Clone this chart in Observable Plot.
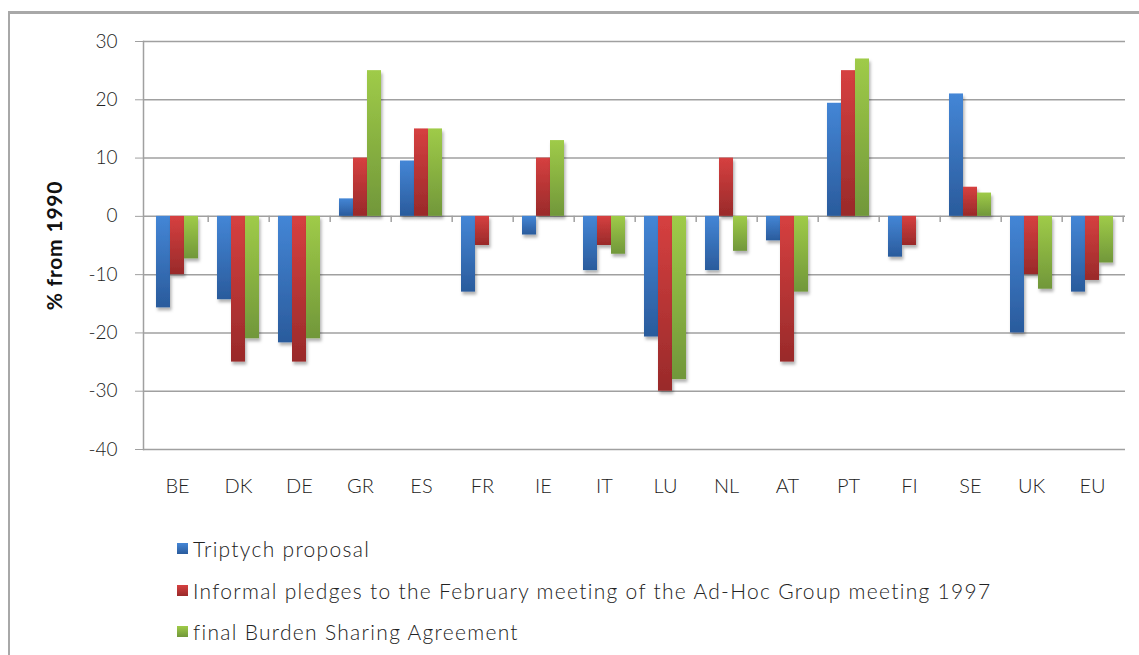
<!DOCTYPE html>
<html><head><meta charset="utf-8">
<script src="https://cdn.jsdelivr.net/npm/d3@7"></script>
<script src="https://cdn.jsdelivr.net/npm/@observablehq/plot@0.6"></script>
<style>
body{margin:0;background:#fff;font-family:Lato, "Open Sans", sans-serif;overflow:hidden;}
#frame{position:absolute;left:8px;top:11px;width:1200px;height:700px;border-left:2px solid #a8a8a8;border-top:3px solid #a8a8a8;box-sizing:border-box;}
#chart{position:absolute;left:0;top:0;}
#legend{position:absolute;left:177px;top:528px;}
.item{display:flex;align-items:center;height:41.5px;font-size:21px;font-weight:300;letter-spacing:1.3px;color:#222;white-space:nowrap;}
.sw{width:11px;height:11px;margin-right:5px;flex:none;}
</style></head>
<body><div id="frame"></div><div id="chart"></div><div id="legend"></div>
<script>
const categories = ["BE","DK","DE","GR","ES","FR","IE","IT","LU","NL","AT","PT","FI","SE","UK","EU"];
const triptych = [-15.7,-14.3,-21.7,3,9.5,-13,-3.2,-9.3,-20.7,-9.3,-4.2,19.4,-7,21,-20,-13];
const pledges  = [-10,-25,-25,10,15,-5,10,-5,-30,10,-25,25,-5,5,-10,-11];
const finalBSA = [-7.3,-21,-21,25,15,null,13,-6.5,-28,-6,-13,27,null,4,-12.5,-8];
const seriesNames = ["Triptych proposal","Informal pledges to the February meeting of the Ad-Hoc Group meeting 1997","final Burden Sharing Agreement"];
const yTicks = [30,20,10,0,-10,-20,-30,-40];
const yLabel = "% from 1990";

const gradients = [["#4486d6","#2a5b9c"],["#d64040","#992a2a"],["#9fcb48","#71973a"]];
const seriesValues = [triptych, pledges, finalBSA];
const rows = seriesNames.map((s, i) => categories.map((c, j) => ({cat: c, series: s, value: seriesValues[i][j]})));

const step = (1125 - 143) / categories.length;
const barW = 14;

const plot = Plot.plot({
  width: 1139, height: 509,
  marginLeft: 143, marginRight: 14, marginTop: 41, marginBottom: 60,
  style: {fontFamily: "Lato, 'Open Sans', sans-serif", color: "#222", background: "transparent"},
  x: {domain: categories, paddingInner: 1 - barW / step, paddingOuter: (1 - barW / step) / 2, label: null},
  y: {domain: [-40, 30], label: null},
  marks: [
    Plot.ruleY(yTicks, {stroke: "#a0a0a0", strokeWidth: 1.5}),
    Plot.frame({anchor: "left", stroke: "#a0a0a0", strokeWidth: 1.5}),
    ...rows.map((r, i) => Plot.barY(r.filter(d => d.value != null), {
      x: "cat", y: "value", dx: (i - 1) * barW, fill: `url(#grad${i})`
    })),
    Plot.ruleX(categories, {x: d => d, y1: 0, y2: -1.05, dx: step / 2, stroke: "#a0a0a0", strokeWidth: 1.5}),
    Plot.axisY({ticks: yTicks, tickSize: 8, tickPadding: 18, stroke: "#a0a0a0", fill: "#222", fontSize: 19, fontWeight: 300, label: null, tickFormat: d => String(d)}),
    Plot.axisX({tickSize: 0, tickPadding: 29, fontSize: 20, fontWeight: 300, fill: "#222", label: null}),
    Plot.text([yLabel], {frameAnchor: "left", textAnchor: "middle", lineAnchor: "middle", rotate: -90, dx: -88, fontSize: 21, fontWeight: "bold", fill: "#111"})
  ]
});
document.getElementById("chart").appendChild(plot);

const svg = d3.select(plot);
const defs = svg.insert("defs", ":first-child");
gradients.forEach((g, i) => {
  const lg = defs.append("linearGradient").attr("id", `grad${i}`).attr("x1", 0).attr("y1", 0).attr("x2", 0).attr("y2", 1);
  lg.append("stop").attr("offset", "0%").attr("stop-color", g[0]);
  lg.append("stop").attr("offset", "100%").attr("stop-color", g[1]);
});
const f = defs.append("filter").attr("id", "shadow").attr("x", "-30%").attr("y", "-10%").attr("width", "160%").attr("height", "130%");
f.append("feDropShadow").attr("dx", 1.5).attr("dy", 3).attr("stdDeviation", 1.8).attr("flood-color", "#000").attr("flood-opacity", 0.3);
svg.selectAll('g[aria-label="bar"]').attr("filter", "url(#shadow)");
svg.selectAll('g[aria-label="tick label"] text, g[aria-label="text"] text').style("letter-spacing", "0.8px");
svg.selectAll('g[aria-label="tick label"]').attr("font-weight", 300);

const legend = d3.select("#legend");
seriesNames.forEach((s, i) => {
  const item = legend.append("div").attr("class", "item");
  item.append("div").attr("class", "sw").style("background", `linear-gradient(${gradients[i][0]}, ${gradients[i][1]})`);
  item.append("span").text(s);
});
</script>
</body></html>
